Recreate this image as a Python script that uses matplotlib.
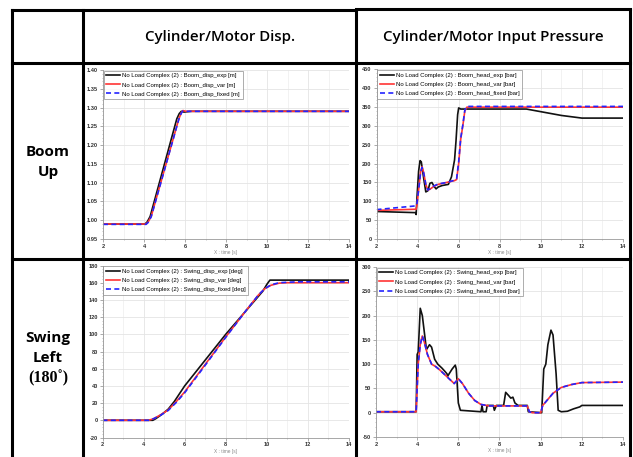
import matplotlib.pyplot as plt
from matplotlib.lines import Line2D
from matplotlib.ticker import MultipleLocator, AutoMinorLocator, FormatStrFormatter

# ---- data ----
# Boom up: cylinder displacement [m]
boom_disp_exp_t = [2, 4.05, 4.15, 4.3, 5.6, 5.72, 5.82, 5.95, 6.3, 14]
boom_disp_exp = [0.99, 0.99, 0.995, 1.01, 1.27, 1.284, 1.29, 1.288, 1.29, 1.29]
boom_disp_var_t = [2, 4.1, 4.2, 4.35, 5.7, 5.82, 5.9, 6.05, 14]
boom_disp_var = [0.99, 0.99, 0.995, 1.01, 1.27, 1.286, 1.292, 1.29, 1.29]
boom_disp_fixed_t = [2, 4.1, 4.2, 4.35, 5.7, 5.82, 5.9, 6.05, 14]
boom_disp_fixed = [0.989, 0.989, 0.994, 1.009, 1.269, 1.285, 1.291, 1.29, 1.29]

# Boom up: head pressure [bar]
boom_head_exp_t = [2, 3.9, 3.93, 3.97, 4.05, 4.12, 4.18, 4.3, 4.4, 4.5, 4.6, 4.7,
                   4.8, 4.9, 5.0, 5.2, 5.5, 5.65, 5.8, 5.87, 5.95, 6.0, 6.1, 6.5,
                   9.3, 10.0, 11.0, 12.0, 14]
boom_head_exp = [73, 70, 65, 110, 180, 208, 205, 160, 125, 128, 148, 150,
                 140, 133, 138, 142, 145, 165, 210, 260, 330, 348, 345, 345,
                 345, 338, 328, 321, 321]
boom_head_var_t = [2, 3.93, 3.97, 4.05, 4.15, 4.22, 4.3, 4.4, 4.5, 4.6, 4.8, 5.0,
                   5.4, 5.8, 5.9, 6.0, 6.1, 6.2, 6.3, 6.4, 14]
boom_head_var = [76, 79, 90, 130, 180, 192, 175, 145, 130, 132, 140, 145,
                 150, 155, 158, 200, 265, 300, 340, 350, 350]
boom_head_fixed_t = [2, 3.93, 3.97, 4.05, 4.15, 4.22, 4.3, 4.4, 4.5, 4.6, 4.8, 5.0,
                     5.4, 5.8, 5.9, 6.0, 6.1, 6.2, 6.3, 6.4, 14]
boom_head_fixed = [78, 88, 95, 130, 178, 190, 175, 145, 130, 133, 141, 146,
                   150, 156, 160, 205, 268, 302, 342, 352, 352]

# Swing left: motor displacement [deg]
swing_disp_exp_t = [2, 4.45, 4.6, 4.9, 5.2, 5.5, 6.0, 8.0, 9.8, 10.0, 10.15, 14]
swing_disp_exp = [0, 0, 2, 7, 13, 22, 40, 100, 150, 158, 163, 163]
swing_disp_var_t = [2, 4.25, 4.5, 4.8, 5.2, 5.6, 6.0, 7.0, 8.0, 9.0, 9.6, 9.9,
                    10.2, 10.6, 11.0, 11.5, 14]
swing_disp_var = [0, 0, 2, 6, 12, 22, 33, 65, 97, 128, 146, 153,
                  157, 159.5, 160, 160, 160]
swing_disp_fixed_t = swing_disp_var_t
swing_disp_fixed = [0, 0, 2, 5.5, 11.5, 21, 32, 64, 96.5, 128, 146, 153,
                    157.5, 160, 160.5, 161, 161]

# Swing left: motor input pressure [bar]
swing_head_exp_t = [2, 3.95, 4.0, 4.05, 4.15, 4.25, 4.45, 4.6, 4.7, 4.85, 5.0, 5.2,
                    5.35, 5.45, 5.48, 5.55, 5.7, 5.85, 5.9, 6.0, 6.1, 7.1, 7.15, 7.2,
                    7.35, 7.4, 7.7, 7.75, 7.85, 8.2, 8.3, 8.45, 8.55, 8.65, 8.75, 8.9,
                    9.35, 9.4, 10.05, 10.15, 10.25, 10.35, 10.5, 10.6, 10.75, 10.85,
                    11.0, 11.3, 11.6, 11.9, 12.0, 14]
swing_head_exp = [2, 2, 120, 125, 215, 200, 130, 140, 135, 110, 100, 92,
                  85, 80, 75, 80, 90, 98, 90, 20, 5, 2, 15, 2,
                  2, 15, 15, 5, 15, 15, 42, 35, 30, 32, 20, 15,
                  15, 2, 0, 90, 100, 140, 170, 160, 80, 5,
                  2, 3, 8, 12, 15, 15]
swing_head_var_t = [2, 3.95, 4.05, 4.15, 4.25, 4.35, 4.5, 4.7, 4.9, 5.1, 5.3, 5.55,
                    5.8, 6.0, 6.2, 6.5, 6.8, 7.1, 7.5, 9.35, 9.45, 9.6, 10.0, 10.1,
                    10.3, 10.6, 11.0, 11.5, 12.0, 14]
swing_head_var = [2, 2, 100, 140, 158, 145, 120, 100, 95, 88, 80, 70,
                  60, 70, 60, 40, 25, 17, 14, 14, 2, 0, 0, 15,
                  25, 40, 52, 58, 62, 63]
swing_head_fixed_t = swing_head_var_t
swing_head_fixed = swing_head_var

panels = [
    ("Boom_disp", "m", [boom_disp_exp_t, boom_disp_var_t, boom_disp_fixed_t],
     [boom_disp_exp, boom_disp_var, boom_disp_fixed], (0.95, 1.40), 0.05, "%.2f"),
    ("Boom_head", "bar", [boom_head_exp_t, boom_head_var_t, boom_head_fixed_t],
     [boom_head_exp, boom_head_var, boom_head_fixed], (0, 450), 50, "%d"),
    ("Swing_disp", "deg", [swing_disp_exp_t, swing_disp_var_t, swing_disp_fixed_t],
     [swing_disp_exp, swing_disp_var, swing_disp_fixed], (-20, 180), 20, "%d"),
    ("Swing_head", "bar", [swing_head_exp_t, swing_head_var_t, swing_head_fixed_t],
     [swing_head_exp, swing_head_var, swing_head_fixed], (-50, 300), 50, "%d"),
]

W, H = 633, 457
fig = plt.figure(figsize=(W / 100, H / 100), dpi=100)

# axes boxes in pixels: left, right, top, bottom
boxes = [(103, 349, 70, 239), (376.5, 623, 69.5, 239),
         (102.5, 349, 265.5, 437.5), (376, 623, 267, 437)]

styles = [dict(color="#111111", lw=1.2, ls="-"),
          dict(color="#ff3535", lw=1.2, ls="-"),
          dict(color="#2424ff", lw=1.2, ls=(0, (3, 2)))]
suffixes = ["exp", "var", "fixed"]

for (name, unit, ts, vs, ylim, ystep, fmt), (l, r, t, b) in zip(panels, boxes):
    ax = fig.add_axes([l / W, 1 - b / H, (r - l) / W, (b - t) / H])
    for tt, vv, st, sfx in zip(ts, vs, styles, suffixes):
        ax.plot(tt, vv, label=f"No Load Complex (2) : {name}_{sfx} [{unit}]", **st)
    ax.set_xlim(2, 14)
    ax.set_ylim(*ylim)
    ax.xaxis.set_major_locator(MultipleLocator(2))
    ax.xaxis.set_minor_locator(MultipleLocator(1))
    ax.yaxis.set_major_locator(MultipleLocator(ystep))
    ax.yaxis.set_minor_locator(AutoMinorLocator(5))
    ax.yaxis.set_major_formatter(FormatStrFormatter(fmt))
    ax.grid(True, which="major", color="#e4e4e4", lw=0.6)
    ax.xaxis.grid(True, which="minor", color="#ededed", lw=0.5)
    ax.set_axisbelow(True)
    for s in ["top", "right"]:
        ax.spines[s].set_visible(False)
    for s in ["left", "bottom"]:
        ax.spines[s].set_color("#999999")
        ax.spines[s].set_linewidth(0.6)
    ax.tick_params(which="major", labelsize=4.1, length=2, width=0.5, color="#888888",
                   pad=1.5, labelcolor="#333333")
    ax.tick_params(which="minor", length=1, width=0.4, color="#999999")
    for lab in ax.get_xticklabels() + ax.get_yticklabels():
        lab.set_fontweight("bold")
        lab.set_family("Liberation Sans")
    ax.set_xlabel("X : time [s]", fontsize=3.4, color="#888888", labelpad=1,
                  family="Liberation Sans")
    leg = ax.legend(loc="upper left", frameon=True, fancybox=False,
                    prop={"family": "Liberation Sans", "size": 4.3},
                    borderaxespad=0.1, handlelength=2.3, handletextpad=0.4,
                    borderpad=0.45, labelspacing=0.65)
    leg.get_frame().set_edgecolor("#888888")
    leg.get_frame().set_linewidth(0.6)

# ---- table lines ----
def hline(y, x0, x1):
    fig.add_artist(Line2D([x0 / W, x1 / W], [1 - y / H, 1 - y / H], color="black",
                          lw=2.2, solid_capstyle="projecting"))

def vline(x, y0, y1):
    fig.add_artist(Line2D([x / W, x / W], [1 - y0 / H, 1 - y1 / H], color="black",
                          lw=2.2, solid_capstyle="projecting"))

hline(10, 12, 356)
hline(9, 356, 630)
hline(63, 12, 630)
hline(259, 12, 630)
for x in [12, 83, 356, 630]:
    vline(x, 10, 460)

hdr = dict(fontsize=10.8, family="Open Sans", fontweight="semibold",
           ha="center", va="center", color="black")
fig.text(220 / W, 1 - 37 / H, "Cylinder/Motor Disp.", **hdr)
fig.text(493 / W, 1 - 37 / H, "Cylinder/Motor Input Pressure", **hdr)

rl = dict(fontsize=11, family="Open Sans", fontweight="bold", ha="center", va="center")
fig.text(48 / W, 1 - 152 / H, "Boom", **rl)
fig.text(48 / W, 1 - 172 / H, "Up", **rl)
fig.text(48 / W, 1 - 338 / H, "Swing", **rl)
fig.text(48 / W, 1 - 358 / H, "Left", **rl)
fig.text(48 / W, 1 - 378 / H, "(180˚)", fontsize=11.5, fontweight="bold",
         family=["Liberation Serif", "DejaVu Serif"], ha="center", va="center")

plt.savefig("out.png", dpi=100)
